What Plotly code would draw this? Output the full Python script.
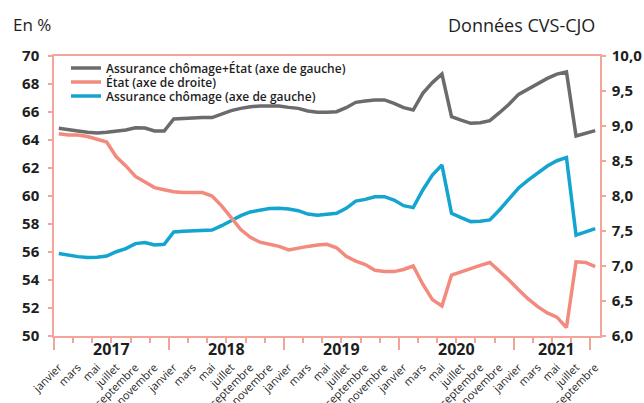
import plotly.graph_objects as go

# ---------------- data ----------------
month_names = ["janvier", "mars", "mai", "juillet", "septembre", "novembre"]
years = [2017, 2018, 2019, 2020, 2021]
months_per_year = [12, 12, 12, 12, 9]

# Assurance chômage + État (left axis, %)
total = [64.84, 64.71, 64.64, 64.55, 64.50, 64.55, 64.64, 64.71, 64.88, 64.86, 64.64, 64.64,
         65.50, 65.55, 65.58, 65.60, 65.60, 65.83, 66.10, 66.26, 66.38, 66.43, 66.45, 66.43,
         66.33, 66.26, 66.07, 65.98, 65.98, 66.02, 66.31, 66.69, 66.79, 66.86, 66.86, 66.62,
         66.31, 66.14, 67.33, 68.10, 68.71, 65.67, 65.42, 65.19, 65.24, 65.38, 65.95, 66.55,
         67.26, 67.64, 68.05, 68.40, 68.71, 68.86, 64.29, 64.48, 64.67]
# État (right axis, %)
etat = [8.89, 8.87, 8.87, 8.85, 8.81, 8.77, 8.56, 8.43, 8.28, 8.20, 8.12, 8.09,
        8.06, 8.05, 8.05, 8.05, 8.00, 7.86, 7.69, 7.52, 7.41, 7.34, 7.31, 7.28,
        7.23, 7.26, 7.28, 7.30, 7.31, 7.26, 7.14, 7.07, 7.02, 6.94, 6.92, 6.92,
        6.95, 7.00, 6.74, 6.52, 6.43, 6.87, 6.92, 6.96, 7.01, 7.05, 6.93, 6.80,
        6.66, 6.53, 6.42, 6.33, 6.27, 6.12, 7.06, 7.05, 6.99]
# Assurance chômage (left axis, %)
assurance = [55.90, 55.76, 55.67, 55.60, 55.62, 55.71, 56.02, 56.24, 56.60, 56.67, 56.50, 56.55,
             57.43, 57.48, 57.50, 57.52, 57.57, 57.88, 58.24, 58.60, 58.86, 59.00, 59.10, 59.12,
             59.07, 58.95, 58.71, 58.62, 58.67, 58.76, 59.12, 59.64, 59.76, 59.95, 59.95, 59.71,
             59.31, 59.17, 60.43, 61.50, 62.21, 58.76, 58.45, 58.17, 58.19, 58.29, 59.00, 59.76,
             60.57, 61.14, 61.67, 62.14, 62.52, 62.74, 57.21, 57.43, 57.67]

# ---------------- derived axis helpers ----------------
n = sum(months_per_year)
x = list(range(n))
tickvals, ticktext = [], []
start = 0
year_centers, year_bounds = [], []
for y, m in zip(years, months_per_year):
    for k in range(0, m, 2):
        tickvals.append(start + k)
        ticktext.append(month_names[k // 2])
    year_centers.append(start + (m - 1) / 2)
    year_bounds.append(start - 0.5)
    start += m
year_bounds.append(n - 1.5)
minor_bounds = [v - 0.5 for v in range(0, n, 2)]

GRAY = "#6b6b6e"
SALMON = "#f38a7e"
BLUE = "#13a5d0"
AXIS = "#f5a49b"
TXT = "#1e1e1e"
FONT = "Open Sans"
xr = [-0.5, n - 0.5]

# plot-area pixel geometry (used only to place text in paper coords)
L, R, T, B = 54, 44, 56, 67
PW, PH = 644 - L - R, 403 - T - B


def px(xp):
    return (xp - L) / PW


def py(yp):
    return (403 - B - yp) / PH


fig = go.Figure()
fig.add_trace(go.Scatter(x=x, y=total, mode="lines", name="Assurance chômage+État (axe de gauche)",
                         line=dict(color=GRAY, width=3.5), legend="legend"))
fig.add_trace(go.Scatter(x=x, y=etat, mode="lines", name="État (axe de droite)", yaxis="y2",
                         line=dict(color=SALMON, width=3.5), legend="legend2"))
fig.add_trace(go.Scatter(x=x, y=assurance, mode="lines", name="Assurance chômage (axe de gauche)",
                         line=dict(color=BLUE, width=3.5), legend="legend3"))
# helper traces so the tick-mark axes exist
fig.add_trace(go.Scatter(x=[None], y=[None], xaxis="x2", showlegend=False, hoverinfo="skip"))
fig.add_trace(go.Scatter(x=[None], y=[None], xaxis="x3", showlegend=False, hoverinfo="skip"))

legend_common = dict(xanchor="left", yanchor="middle", bgcolor="rgba(0,0,0,0)",
                     font=dict(family=FONT, size=12, color=TXT, weight=600), x=px(66))

fig.update_layout(
    width=644, height=403,
    margin=dict(l=L, r=R, t=T, b=B, autoexpand=False),
    paper_bgcolor="white", plot_bgcolor="white",
    separators=", ",
    font=dict(family=FONT, color=TXT),
    legend=dict(**legend_common, y=py(68)),
    legend2=dict(**legend_common, y=py(82)),
    legend3=dict(**legend_common, y=py(96)),
    xaxis=dict(range=xr, tickvals=tickvals, ticktext=ticktext, tickangle=-45,
               ticks="", showgrid=False, zeroline=False, automargin=False,
               showline=True, linecolor=AXIS, linewidth=1.5, mirror=True,
               tickfont=dict(family=FONT, size=11, color=TXT),
               ticklabelstandoff=19),
    xaxis2=dict(range=xr, overlaying="x", anchor="y", side="bottom", automargin=False,
                tickvals=minor_bounds, ticks="outside", ticklen=6, tickwidth=1.5,
                tickcolor=AXIS, showticklabels=False, showgrid=False, zeroline=False,
                showline=False),
    xaxis3=dict(range=xr, overlaying="x", anchor="y", side="bottom", automargin=False,
                tickvals=year_bounds, ticks="outside", ticklen=13, tickwidth=1.5,
                tickcolor=AXIS, showticklabels=False, showgrid=False, zeroline=False,
                showline=False),
    yaxis=dict(range=[50, 70], dtick=2, tick0=50, ticks="outside", ticklen=4, tickwidth=1.5,
               tickcolor=AXIS, showline=True, linecolor=AXIS, linewidth=1.5, automargin=False,
               showgrid=False, zeroline=False, ticklabelstandoff=6,
               tickfont=dict(family=FONT, size=15, color=TXT, weight=700)),
    yaxis2=dict(range=[6, 10], dtick=0.5, tick0=6, tickformat=".1f", overlaying="y",
                side="right", ticks="outside", ticklen=4, tickwidth=1.5, tickcolor=AXIS,
                showline=True, linecolor=AXIS, linewidth=1.5, showgrid=False, automargin=False,
                zeroline=False, ticklabelstandoff=3,
                tickfont=dict(family=FONT, size=15, color=TXT, weight=700)),
)

for yr, xc in zip(years, year_centers):
    fig.add_annotation(x=xc, y=py(349), xref="x", yref="paper", text=str(yr),
                       showarrow=False, yanchor="middle",
                       font=dict(family=FONT, size=16, color=TXT, weight=700))

fig.add_annotation(x=px(11), y=py(25), xref="paper", yref="paper", text="En %",
                   showarrow=False, xanchor="left", yanchor="middle",
                   font=dict(family=FONT, size=17, color=TXT))
fig.add_annotation(x=px(597), y=py(25), xref="paper", yref="paper",
                   text="Données CVS-CJO", showarrow=False, xanchor="right", yanchor="middle",
                   font=dict(family=FONT, size=18, color=TXT))

fig.write_html("out.html", config={"displayModeBar": False},
               post_script="document.body.style.margin='0';document.body.style.overflow='hidden';")
